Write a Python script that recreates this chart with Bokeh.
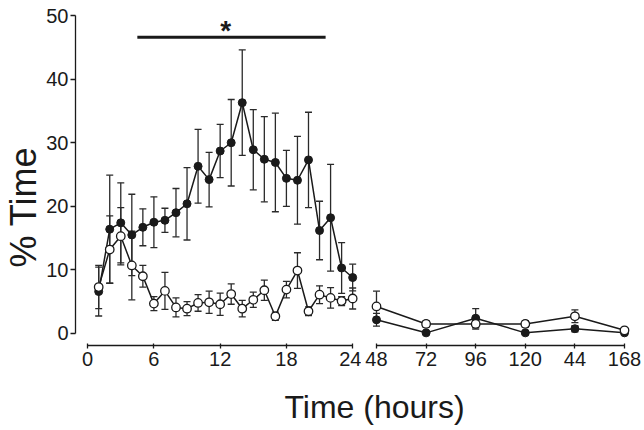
from bokeh.plotting import figure
from bokeh.layouts import row, column
from bokeh.models import Whisker, ColumnDataSource, Label, FixedTicker, TeeHead, Range1d, Title
from bokeh.core.properties import value
from bokeh.embed import file_html
from bokeh.resources import INLINE

# ---------------- data ----------------
hours = list(range(1, 25))
filled_mean = [6.6, 16.4, 17.4, 15.5, 16.7, 17.5, 17.8, 19.0, 20.4, 26.3, 24.2, 28.7,
               30.0, 36.3, 28.9, 27.4, 26.9, 24.4, 24.1, 27.3, 16.2, 18.2, 10.3, 8.8]
filled_err = [3.85, 8.5, 6.3, 6.4, 2.9, 4.0, 1.9, 3.8, 5.7, 5.8, 4.3, 4.2,
              6.8, 8.3, 6.3, 6.7, 7.75, 4.4, 6.9, 7.5, 4.6, 8.4, 4.0, 2.1]
open_mean = [7.3, 13.2, 15.3, 10.7, 9.0, 4.7, 6.7, 4.1, 3.9, 4.8, 4.9, 4.6,
             6.2, 3.9, 5.3, 6.8, 2.7, 6.9, 9.9, 3.5, 6.1, 5.6, 5.1, 5.5]
open_err = [3.4, 5.3, 4.5, 5.4, 1.7, 1.1, 2.9, 1.5, 1.1, 1.3, 1.75, 1.75,
            1.6, 1.3, 1.2, 1.6, 0.65, 1.3, 2.8, 0.7, 1.4, 1.6, 0.7, 1.65]

days = [48, 72, 96, 120, 144, 168]
filled_mean_d = [2.15, 0.1, 2.4, 0.1, 0.75, 0.1]
filled_err_d = [1.0, 0.2, 1.5, 0.2, 0.5, 0.2]
open_mean_d = [4.25, 1.5, 1.5, 1.5, 2.7, 0.5]
open_err_d = [2.4, 0.5, 0.8, 0.5, 1.0, 0.3]

left_ticks = [0, 6, 12, 18, 24]
right_ticks = [48, 72, 96, 120, 144, 168]
right_tick_labels = ["48", "72", "96", "120", "44", "168"]
y_ticks = [0, 10, 20, 30, 40, 50]

sig_start, sig_end, sig_level = 4.5, 21.55, 46.6
star_x, star_y = 12.5, 47.6

y_title = "% Time"
x_title = "Time (hours)"

# ---------------- style ----------------
FONT = "Liberation Sans"
INK = "#1a1a1a"
ERR = "#2a2a2a"


def style_axis(ax, tick_in, tick_out, standoff):
    ax.axis_line_color = INK
    ax.axis_line_width = 1.3
    ax.major_tick_line_color = INK
    ax.major_tick_line_width = 1.3
    ax.major_tick_in = tick_in
    ax.major_tick_out = tick_out
    ax.minor_tick_line_color = None
    ax.major_label_text_font = FONT
    ax.major_label_text_font_size = "20px"
    ax.major_label_text_color = INK
    ax.major_label_standoff = standoff


def add_series(p, x, m, e, filled):
    lo = [a - b for a, b in zip(m, e)]
    hi = [a + b for a, b in zip(m, e)]
    src = ColumnDataSource(dict(x=x, m=m, lo=lo, hi=hi))
    w = Whisker(base="x", lower="lo", upper="hi", source=src,
                line_color=ERR, line_width=1.3,
                lower_head=TeeHead(size=7, line_color=ERR, line_width=1.3),
                upper_head=TeeHead(size=7, line_color=ERR, line_width=1.3))
    p.add_layout(w)
    p.line("x", "m", source=src, line_color=INK, line_width=1.5)
    if filled:
        p.scatter("x", "m", source=src, size=8, fill_color=INK, line_color=INK)
    else:
        p.scatter("x", "m", source=src, size=8.5, fill_color="white",
                  line_color=INK, line_width=1.3)


def clean(p):
    p.xgrid.visible = False
    p.ygrid.visible = False
    p.outline_line_color = None
    p.background_fill_color = "white"
    p.border_fill_color = "white"


yr = Range1d(-1.89, 50.8)

# ---------------- left panel (0-24 h) ----------------
p1 = figure(width=361, height=375, x_range=Range1d(-1.1, 24.8), y_range=yr,
            output_backend="svg", toolbar_location=None,
            min_border_left=75, min_border_right=0, min_border_top=10, min_border_bottom=30)
clean(p1)
add_series(p1, hours, filled_mean, filled_err, True)
add_series(p1, hours, open_mean, open_err, False)
p1.line([sig_start, sig_end], [sig_level, sig_level], line_color=INK, line_width=3)
p1.text(x=[star_x], y=[star_y], text=["*"], text_font=value(FONT),
        text_font_size="28px", text_font_style="bold", text_color=INK,
        text_align="center", text_baseline="alphabetic")

p1.xaxis.ticker = FixedTicker(ticks=left_ticks)
p1.xaxis.bounds = (left_ticks[0], left_ticks[-1])
style_axis(p1.xaxis[0], 2, 3, 3)
p1.yaxis.ticker = FixedTicker(ticks=y_ticks)
p1.yaxis.bounds = (y_ticks[0], y_ticks[-1])
style_axis(p1.yaxis[0], 0, 5, 2)
p1.add_layout(Title(text=y_title, align="left", offset=78, standoff=0,
                    text_font=FONT, text_font_size="36px", text_font_style="normal",
                    text_color=INK), "left")

# ---------------- right panel (48-168 h) ----------------
p2 = figure(width=281, height=375, x_range=Range1d(42.2, 173.8), y_range=yr,
            output_backend="svg", toolbar_location=None, y_axis_location=None,
            min_border_left=3, min_border_right=6, min_border_top=10, min_border_bottom=30)
clean(p2)
add_series(p2, days, filled_mean_d, filled_err_d, True)
add_series(p2, days, open_mean_d, open_err_d, False)
p2.xaxis.ticker = FixedTicker(ticks=right_ticks)
p2.xaxis.major_label_overrides = dict(zip(right_ticks, right_tick_labels))
p2.xaxis.bounds = (right_ticks[0], right_ticks[-1])
style_axis(p2.xaxis[0], 2, 3, 3)

# ---------------- shared x-axis title ----------------
p3 = figure(width=642, height=55, x_range=Range1d(0, 1), y_range=Range1d(0, 1),
            output_backend="svg", toolbar_location=None,
            x_axis_location=None, y_axis_location=None,
            min_border=0)
clean(p3)
p3.add_layout(Label(x=374, y=24, x_units="screen", y_units="screen",
                    text=x_title, text_font=FONT, text_font_size="32px",
                    text_color=INK, text_align="center", text_baseline="alphabetic"))

layout = column(row(p1, p2), p3)
open("out.html", "w").write(file_html(layout, INLINE))
